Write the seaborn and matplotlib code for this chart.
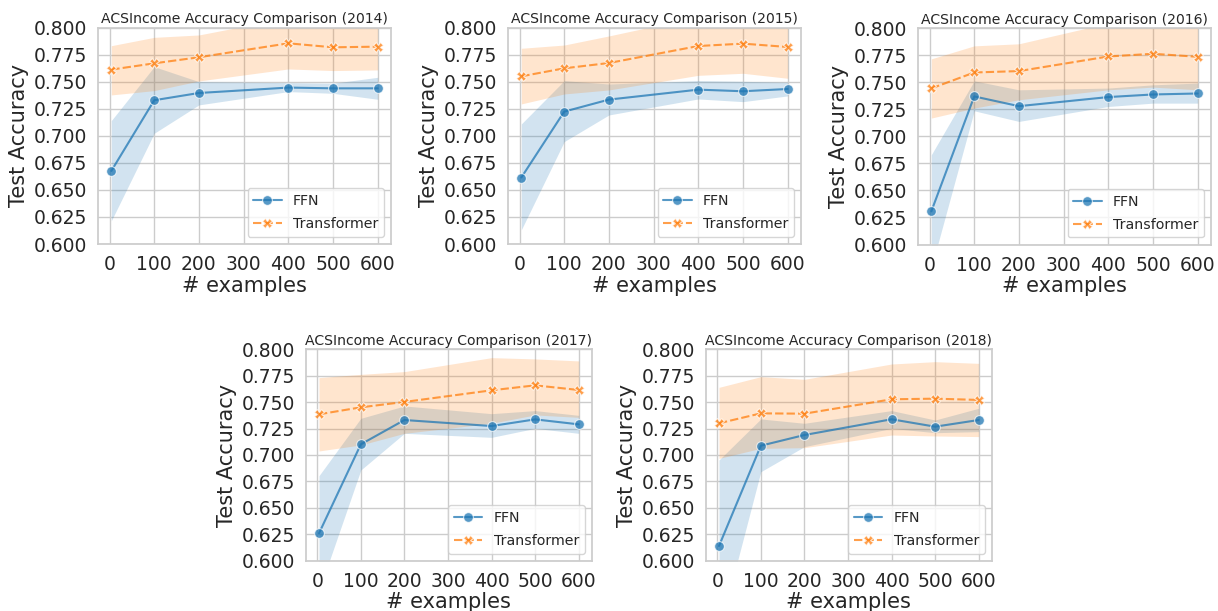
import numpy as np
import pandas as pd
import matplotlib
matplotlib.use("Agg")
import matplotlib.pyplot as plt
import seaborn as sns

# Shot counts on the x axis
examples = [4, 100, 200, 400, 500, 600]
years = [2014, 2015, 2016, 2017, 2018]
models = ["FFN", "Transformer"]

# Mean test accuracy and band limits per year
ffn_mean = {
    2014: [0.6675, 0.7328, 0.7395, 0.7445, 0.7438, 0.7438],
    2015: [0.6614, 0.7223, 0.7334, 0.7426, 0.7411, 0.7432],
    2016: [0.6306, 0.7368, 0.7278, 0.7362, 0.7386, 0.7395],
    2017: [0.6259, 0.7101, 0.7331, 0.7274, 0.7337, 0.7290],
    2018: [0.6139, 0.7088, 0.7189, 0.7338, 0.7268, 0.7331],
}
ffn_lo = {
    2014: [0.6214, 0.7023, 0.7285, 0.7408, 0.7392, 0.7337],
    2015: [0.6131, 0.6946, 0.7192, 0.7340, 0.7315, 0.7368],
    2016: [0.5783, 0.7235, 0.7137, 0.7275, 0.7306, 0.7306],
    2017: [0.5714, 0.6858, 0.7205, 0.7167, 0.7252, 0.7205],
    2018: [0.5325, 0.6842, 0.7079, 0.7252, 0.7211, 0.7221],
}
ffn_hi = {
    2014: [0.7140, 0.7638, 0.7500, 0.7490, 0.7485, 0.7540],
    2015: [0.7109, 0.7509, 0.7478, 0.7509, 0.7503, 0.7494],
    2016: [0.6829, 0.7512, 0.7429, 0.7445, 0.7475, 0.7491],
    2017: [0.6804, 0.7347, 0.7464, 0.7391, 0.7420, 0.7375],
    2018: [0.6953, 0.7341, 0.7300, 0.7420, 0.7331, 0.7442],
}
tf_mean = {
    2014: [0.7611, 0.7669, 0.7725, 0.7854, 0.7817, 0.7823],
    2015: [0.7549, 0.7623, 0.7672, 0.7829, 0.7851, 0.7820],
    2016: [0.7442, 0.7589, 0.7602, 0.7737, 0.7762, 0.7734],
    2017: [0.7385, 0.7451, 0.7502, 0.7612, 0.7659, 0.7615],
    2018: [0.7300, 0.7394, 0.7391, 0.7527, 0.7533, 0.7521],
}
tf_lo = {
    2014: [0.7377, 0.7417, 0.7506, 0.7617, 0.7602, 0.7608],
    2015: [0.7294, 0.7386, 0.7423, 0.7558, 0.7577, 0.7531],
    2016: [0.7168, 0.7260, 0.7337, 0.7429, 0.7454, 0.7429],
    2017: [0.7038, 0.7095, 0.7205, 0.7300, 0.7379, 0.7356],
    2018: [0.6968, 0.7063, 0.7069, 0.7189, 0.7180, 0.7174],
}
tf_hi = {
    2014: [0.7832, 0.7909, 0.7931, 0.8091, 0.8032, 0.8038],
    2015: [0.7808, 0.7838, 0.7922, 0.8100, 0.8125, 0.8110],
    2016: [0.7715, 0.7835, 0.7854, 0.8045, 0.8070, 0.8040],
    2017: [0.7732, 0.7763, 0.7789, 0.7921, 0.7909, 0.7890],
    2018: [0.7640, 0.7741, 0.7716, 0.7861, 0.7883, 0.7867],
}

sns.set_theme(style="whitegrid")
palette = sns.color_palette("tab10", 2)

W, H = 1218, 611
fig = plt.figure(figsize=(W / 100, H / 100), dpi=100)

# panel boxes in pixels: left, top, right, bottom
boxes = {
    2014: (98, 27.5, 391, 244),
    2015: (508, 27.5, 801, 244),
    2016: (918, 28, 1211, 244.5),
    2017: (306, 349.3, 591.7, 560.7),
    2018: (706, 349.3, 991.7, 560.7),
}

for year in years:
    l, t, r, b = boxes[year]
    ax = fig.add_axes([l / W, 1 - b / H, (r - l) / W, (b - t) / H])

    df = pd.DataFrame({
        "# examples": examples * 2,
        "Test Accuracy": ffn_mean[year] + tf_mean[year],
        "model": ["FFN"] * len(examples) + ["Transformer"] * len(examples),
    })

    ax.fill_between(examples, ffn_lo[year], ffn_hi[year],
                    color=palette[0], alpha=0.2, linewidth=0)
    ax.fill_between(examples, tf_lo[year], tf_hi[year],
                    color=palette[1], alpha=0.2, linewidth=0)

    sns.lineplot(data=df, x="# examples", y="Test Accuracy", hue="model",
                 style="model", markers=True, dashes=True, palette=palette,
                 alpha=0.75, markersize=7, ax=ax)

    ax.set_ylim(0.6, 0.8)
    ax.set_yticks(np.arange(0.6, 0.8001, 0.025))
    ax.set_xticks([0, 100, 200, 300, 400, 500, 600])
    ax.tick_params(labelsize=13.5, pad=2)
    ax.set_xlabel("# examples", fontsize=15, labelpad=1)
    ax.set_ylabel("Test Accuracy", fontsize=15, labelpad=3)
    ax.set_title(f"ACSIncome Accuracy Comparison ({year})", fontsize=10.1, pad=3)

    handles, labels = ax.get_legend_handles_labels()
    ax.legend(handles, labels, loc="lower right", fontsize=10.2,
              labelspacing=0.65, title=None)

fig.savefig("out.png", dpi=100)
